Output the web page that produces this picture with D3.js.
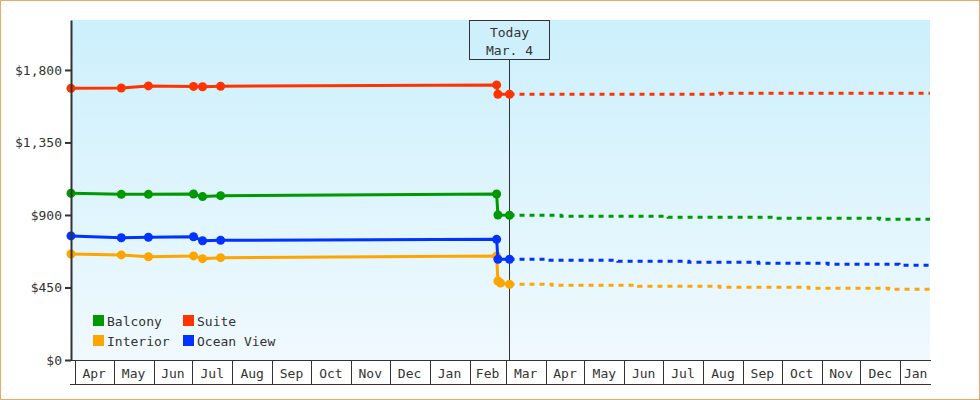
<!DOCTYPE html>
<html><head><meta charset="utf-8">
<script src="https://cdn.jsdelivr.net/npm/d3@7"></script>
<style>
html,body{margin:0;padding:0;background:#fff;}
svg{display:block;}
text{font-family:"DejaVu Sans Mono",monospace;font-size:13px;fill:#333;}
</style></head>
<body>
<svg id="chart" width="980" height="400"></svg>
<script>
// ---- data ----
const seriesNames = ["Balcony", "Suite", "Interior", "Ocean View"];
const seriesColors = ["#009900", "#ff3300", "#ffa500", "#0033ff"];

const pastDates = ["2022-03-29","2022-05-07","2022-05-28","2022-07-02","2022-07-09","2022-07-23","2023-02-22","2023-02-23","2023-03-04"];
const interiorPastDates = ["2022-03-29","2022-05-07","2022-05-28","2022-07-02","2022-07-09","2022-07-23","2023-02-22","2023-02-23","2023-02-25","2023-03-04"];

const balconyPast = [1035, 1028, 1028, 1030, 1014, 1020, 1030, 900, 898];
const suitePast   = [1686, 1688, 1701, 1698, 1696, 1699, 1707, 1649, 1649];
const oceanPast   = [770, 759, 762, 765, 740, 743, 749, 625, 625];
const interiorPast = [658, 652, 641, 646, 629, 635, 646, 490, 478, 470];

const balconyFutureDates = ["2023-03-04","2023-04-13","2023-07-05","2023-09-24","2023-12-16","2024-01-24"];
const balconyFuture = [898, 892, 886, 880, 873, 873];
const suiteFutureDates = ["2023-03-04","2023-08-14","2024-01-24"];
const suiteFuture = [1649, 1655, 1655];
const oceanFutureDates = ["2023-03-04","2023-04-03","2023-05-27","2023-07-21","2023-09-13","2023-11-06","2023-12-31","2024-01-24"];
const oceanFuture = [625, 619, 613, 606, 600, 594, 588, 588];
const interiorFutureDates = ["2023-03-04","2023-04-06","2023-06-12","2023-08-14","2023-10-22","2023-12-23","2024-01-24"];
const interiorFuture = [470, 464, 457, 451, 445, 439, 439];

const yTicks = [0, 450, 900, 1350, 1800];
const monthLabels = ["Apr","May","Jun","Jul","Aug","Sep","Oct","Nov","Dec","Jan","Feb","Mar","Apr","May","Jun","Jul","Aug","Sep","Oct","Nov","Dec","Jan"];
const todayDate = "2023-03-04";
const todayLines = ["Today", "Mar. 4"];
const xDomain = ["2022-03-29", "2024-01-24"];
const yMax = 2110;

// ---- chart ----
const parse = d3.timeParse("%Y-%m-%d");
const svg = d3.select("#chart");
const L = 71, R = 930, T = 20, B = 360;

const x = d3.scaleTime().domain(xDomain.map(parse)).range([L, R]);
const y = d3.scaleLinear().domain([0, yMax]).range([B, T]);

// outer border
svg.append("rect").attr("x", 0.5).attr("y", 0.5).attr("width", 979).attr("height", 399)
  .attr("fill", "#fff").attr("stroke", "#e8aa68").attr("stroke-width", 1);

// gradient background
const defs = svg.append("defs");
const grad = defs.append("linearGradient").attr("id", "bg").attr("x1", 0).attr("y1", 0).attr("x2", 0).attr("y2", 1);
grad.append("stop").attr("offset", "0%").attr("stop-color", "#ccf0fc");
grad.append("stop").attr("offset", "100%").attr("stop-color", "#f0f9fe");
svg.append("rect").attr("x", L).attr("y", T).attr("width", R - L).attr("height", B - T).attr("fill", "url(#bg)");

// today marker
const tx = Math.floor(x(parse(todayDate))) + 0.5;
svg.append("line").attr("x1", tx).attr("x2", tx).attr("y1", 60).attr("y2", B)
  .attr("stroke", "#333").attr("stroke-width", 1);
svg.append("rect").attr("x", tx - 40).attr("y", 20.5).attr("width", 80).attr("height", 39)
  .attr("fill", "#cdf0fc").attr("stroke", "#333").attr("stroke-width", 1);
svg.selectAll("text.today").data(todayLines).enter().append("text")
  .attr("class", "today").attr("x", tx).attr("y", (d, i) => 37 + i * 18)
  .attr("text-anchor", "middle").text(d => d);

// series
const series = [
  {name: "Interior", color: seriesColors[2], pd: interiorPastDates, pv: interiorPast, fd: interiorFutureDates, fv: interiorFuture},
  {name: "Balcony", color: seriesColors[0], pd: pastDates, pv: balconyPast, fd: balconyFutureDates, fv: balconyFuture},
  {name: "Ocean View", color: seriesColors[3], pd: pastDates, pv: oceanPast, fd: oceanFutureDates, fv: oceanFuture},
  {name: "Suite", color: seriesColors[1], pd: pastDates, pv: suitePast, fd: suiteFutureDates, fv: suiteFuture}
];
const lineLin = d3.line().x(d => x(d[0])).y(d => y(d[1]));
const lineStep = d3.line().curve(d3.curveStepAfter).x(d => x(d[0])).y(d => y(d[1]));

series.forEach(s => {
  const past = s.pd.map((d, i) => [parse(d), s.pv[i]]);
  const fut = s.fd.map((d, i) => [parse(d), s.fv[i]]);
  const g = svg.append("g");
  g.append("path").attr("d", lineStep(fut)).attr("fill", "none").attr("stroke", s.color)
    .attr("stroke-width", 3).attr("stroke-dasharray", "5,5");
  g.append("path").attr("d", lineLin(past)).attr("fill", "none").attr("stroke", s.color)
    .attr("stroke-width", 3).attr("stroke-linejoin", "round");
  g.selectAll("circle").data(past).enter().append("circle")
    .attr("cx", d => x(d[0])).attr("cy", d => y(d[1])).attr("r", 4.5).attr("fill", s.color);
});

// y axis
const yAxis = d3.axisLeft(y).tickValues(yTicks).tickSize(6).tickSizeOuter(0).tickPadding(3)
  .tickFormat(d => "$" + d3.format(",")(d));
const yg = svg.append("g").attr("transform", `translate(${L},0)`).call(yAxis);
yg.select(".domain").attr("stroke", "#333").attr("stroke-width", 2);
yg.selectAll(".tick line").attr("stroke", "#333").attr("stroke-width", 2);
yg.selectAll(".tick text").attr("fill", "#333").style("font-family", "DejaVu Sans Mono, monospace").style("font-size", "13px");

// x month band
const bandTop = 360.5, bandBot = 384.5, bandR = 931;
const months = d3.timeMonth.range(new Date(2022, 3, 1), new Date(2024, 1, 1));
const xg = svg.append("g");
xg.append("line").attr("x1", L).attr("x2", bandR).attr("y1", bandTop).attr("y2", bandTop)
  .attr("stroke", "#333").attr("stroke-width", 1);
xg.append("line").attr("x1", 70).attr("x2", bandR).attr("y1", bandBot).attr("y2", bandBot)
  .attr("stroke", "#333").attr("stroke-width", 1);
months.forEach((m, i) => {
  const x0 = x(m);
  const x1 = Math.min(x(d3.timeMonth.offset(m, 1)), bandR);
  if (x0 >= L && x0 < bandR) {
    const xs = Math.round(x0) + 0.5;
    xg.append("line").attr("x1", xs).attr("x2", xs).attr("y1", bandTop).attr("y2", bandBot)
      .attr("stroke", "#333").attr("stroke-width", 1);
  }
  xg.append("text").attr("x", (Math.max(x0, L) + x1) / 2).attr("y", 378)
    .attr("text-anchor", "middle").text(monthLabels[i]);
});

// legend
const legendItems = [
  {name: seriesNames[0], color: seriesColors[0], lx: 93, ly: 315},
  {name: seriesNames[1], color: seriesColors[1], lx: 183, ly: 315},
  {name: seriesNames[2], color: seriesColors[2], lx: 93, ly: 335},
  {name: seriesNames[3], color: seriesColors[3], lx: 183, ly: 335}
];
const lg = svg.append("g").selectAll("g").data(legendItems).enter().append("g");
lg.append("rect").attr("x", d => d.lx).attr("y", d => d.ly).attr("width", 11).attr("height", 11).attr("fill", d => d.color);
lg.append("text").attr("x", d => d.lx + 14).attr("y", d => d.ly + 10.5).text(d => d.name);
</script>
</body></html>
